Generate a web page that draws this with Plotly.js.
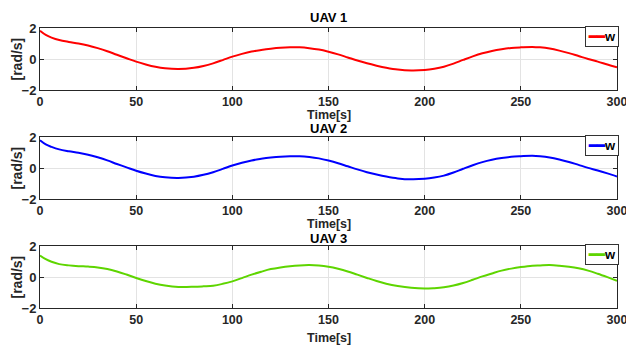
<!DOCTYPE html>
<html><head><meta charset="utf-8">
<script src="https://cdn.plot.ly/plotly-3.0.1.min.js"></script>
<style>body{margin:0;background:#fff}#c{width:626px;height:349px}</style>
</head><body><div id="c"></div>
<script>
const time = [0,3,6,10,15,20,25,30,35,40,45,50,55,60,65,72,80,85,90,95,100,105,110,115,120,125,130,135,140,145,150,155,160,165,170,175,180,186,193,200,205,210,215,220,225,230,235,240,245,250,256,260,265,270,275,280,285,290,295,300];
const uav1 = [1.82,1.55,1.38,1.22,1.10,1.00,0.87,0.70,0.50,0.27,0.05,-0.17,-0.35,-0.50,-0.60,-0.65,-0.57,-0.45,-0.28,-0.07,0.15,0.33,0.48,0.58,0.66,0.72,0.75,0.75,0.70,0.61,0.47,0.30,0.10,-0.10,-0.28,-0.43,-0.56,-0.68,-0.74,-0.71,-0.63,-0.50,-0.30,-0.06,0.17,0.37,0.52,0.63,0.71,0.75,0.78,0.75,0.67,0.54,0.38,0.19,0.00,-0.17,-0.36,-0.54];
const uav2 = [1.79,1.52,1.36,1.20,1.08,0.98,0.86,0.69,0.49,0.26,0.04,-0.18,-0.36,-0.51,-0.60,-0.64,-0.56,-0.44,-0.27,-0.06,0.16,0.34,0.49,0.59,0.67,0.73,0.76,0.76,0.71,0.62,0.48,0.31,0.11,-0.09,-0.27,-0.42,-0.55,-0.67,-0.73,-0.70,-0.62,-0.49,-0.29,-0.05,0.18,0.38,0.53,0.64,0.72,0.76,0.79,0.76,0.68,0.55,0.39,0.20,0.01,-0.16,-0.35,-0.55];
const uav3 = [1.39,1.15,0.98,0.83,0.75,0.70,0.67,0.62,0.52,0.36,0.16,-0.06,-0.26,-0.43,-0.55,-0.64,-0.63,-0.60,-0.56,-0.44,-0.28,-0.07,0.15,0.34,0.51,0.62,0.70,0.75,0.77,0.74,0.66,0.53,0.36,0.15,-0.06,-0.26,-0.43,-0.58,-0.70,-0.75,-0.72,-0.66,-0.55,-0.39,-0.18,0.04,0.23,0.41,0.54,0.64,0.73,0.75,0.77,0.73,0.66,0.56,0.41,0.21,-0.01,-0.24];
const series = [uav1, uav2, uav3];
const names = ['w','w','w'];
const titles = ['UAV 1','UAV 2','UAV 3'];
const xTitle = 'Time[s]';
const yTitle = '[rad/s]';
const colors = ['#ff0000','#0000ff','#5ed500'];
const xTicks = [0,50,100,150,200,250,300];
const yTicks = [-2,0,2];

const H = 349, W = 626;
const xd = [40/W, 617/W];
const yd = [[1-90/H, 1-28/H],[1-199/H, 1-137/H],[1-308/H, 1-246/H]];
const titleShift = [11, 9, 8];
const xTitleShift = [25, 25, 30];
const font = {family:'Liberation Sans, Arial, sans-serif', size:12.5, color:'#262626', weight:'bold'};

const data = series.map((s,i)=>({
  x: time, y: s, type:'scatter', mode:'lines', name: names[i], showlegend:false,
  line:{color:colors[i], width:2, shape:'spline', smoothing:1},
  xaxis: i===0?'x':'x'+(i+1), yaxis: i===0?'y':'y'+(i+1)
}));

const layout = {
  width:W, height:H, margin:{l:0,r:0,t:0,b:0}, paper_bgcolor:'#fff', plot_bgcolor:'#fff',
  font: font, showlegend:false, annotations:[]
};
for (let i=0;i<3;i++){
  const sx = i===0?'':(i+1);
  layout['xaxis'+sx] = {domain:xd, range:[0,300], tickvals:xTicks, ticks:'inside', ticklen:4, tickcolor:'#262626',
    showgrid:true, gridcolor:'#e3e3e3', zeroline:false, showline:true, linecolor:'#262626', linewidth:1, mirror:'allticks',
    anchor:'y'+sx, automargin:false, tickfont:{...font, size:12.5}, ticklabeloverflow:'allow'};
  layout['yaxis'+sx] = {domain:yd[i], range:[-2,2], tickvals:yTicks, ticks:'inside', ticklen:4, tickcolor:'#262626',
    showgrid:true, gridcolor:'#e3e3e3', zeroline:false, showline:true, linecolor:'#262626', linewidth:1, mirror:'allticks',
    anchor:'x'+sx, automargin:false, tickfont:{...font, size:13}, ticklabeloverflow:'allow'};
  layout.annotations.push({text:titles[i], xref:'paper', yref:'paper', x:(xd[0]+xd[1])/2, y:yd[i][1], yanchor:'middle', yshift:titleShift[i],
    showarrow:false, borderpad:0, font:{...font, size:13, color:'#000'}});
  layout.annotations.push({text:xTitle, xref:'paper', yref:'paper', x:(xd[0]+xd[1])/2, y:yd[i][0], yanchor:'middle', yshift:-xTitleShift[i],
    showarrow:false, borderpad:0, font:{...font, size:12.5}});
  layout.annotations.push({text:yTitle, xref:'paper', yref:'paper', x:16.5/W, y:(yd[i][0]+yd[i][1])/2, xanchor:'center', yanchor:'middle', textangle:-90,
    showarrow:false, font:{...font, size:14}});
  // legend box
  layout.annotations.push({text:'<span style="color:'+colors[i]+'">━━</span>'+names[i], xref:'paper', yref:'paper',
    x:619/W, y:yd[i][1], xanchor:'right', yanchor:'top', yshift:2, showarrow:false, align:'left',
    bgcolor:'#fff', bordercolor:'#333', borderwidth:1, borderpad:2, font:{...font, size:13, color:'#000'}});
}
Plotly.newPlot('c', data, layout, {displayModeBar:false, staticPlot:true});
</script></body></html>
